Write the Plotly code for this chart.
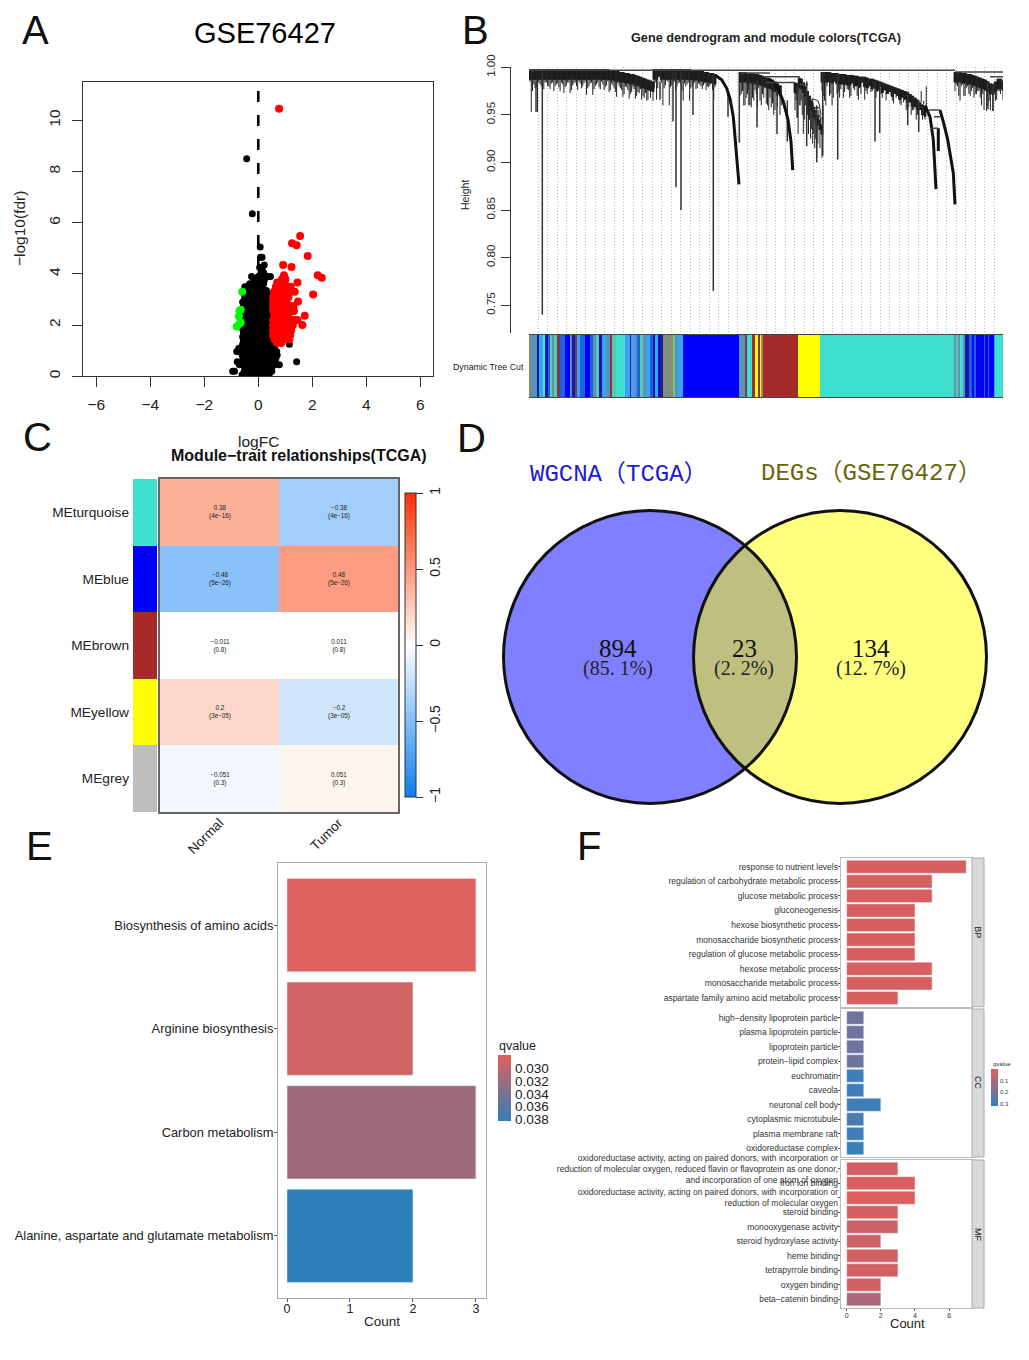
import numpy as np
import plotly.graph_objects as go

W, H = 1029, 1360
FONT = "Liberation Sans"

# ---------- Panel A values
black_rows = [
    (0.06, [-0.6, -0.48, -0.35, -0.25, -0.15, -0.05, 0.05, 0.15, 0.25, 0.33, 0.4]),
    (0.2, [-0.95, -0.88, -0.52, -0.45, -0.33, -0.2, -0.08, 0.08, 0.2, 0.3, 0.42, 0.5]),
    (0.33, [-0.5, -0.4, -0.25, -0.12, 0.02, 0.14, 0.28, 0.38, 0.5]),
    (0.45, [-0.7, -0.55, -0.42, -0.3, -0.18, -0.05, 0.1, 0.2, 0.32, 0.42, 0.55, 0.6, 0.78]),
    (0.57, [-0.78, -0.65, -0.5, -0.38, -0.25, -0.12, 0.02, 0.12, 0.25, 0.35, 0.48, 0.6, 1.42]),
    (0.7, [-0.55, -0.42, -0.28, -0.15, 0.0, 0.15, 0.28, 0.4, 0.52, 0.65]),
    (0.83, [-0.6, -0.48, -0.35, -0.2, -0.08, 0.08, 0.22, 0.35, 0.48, 0.62, 0.7]),
    (0.97, [-0.8, -0.75, -0.6, -0.45, -0.3, -0.15, 0.0, 0.15, 0.3, 0.42, 0.55, 0.68]),
    (1.1, [-0.72, -0.55, -0.42, -0.25, -0.1, 0.05, 0.2, 0.35, 0.48, 0.6]),
    (1.25, [-0.58, -0.45, -0.3, -0.15, 0.0, 0.15, 0.3, 0.45, 0.62, 1.15]),
    (1.4, [-0.55, -0.4, -0.25, -0.1, 0.05, 0.2, 0.35, 0.48]),
    (1.55, [-0.58, -0.45, -0.3, -0.15, 0.0, 0.15, 0.3, 0.45]),
    (1.7, [-0.55, -0.4, -0.25, -0.1, 0.05, 0.2, 0.35, 0.48]),
    (1.85, [-0.58, -0.45, -0.3, -0.15, 0.0, 0.15, 0.3, 0.45]),
    (2.0, [-0.55, -0.4, -0.25, -0.1, 0.05, 0.2, 0.35, 0.48]),
    (2.15, [-0.58, -0.45, -0.3, -0.15, 0.0, 0.15, 0.3, 0.45]),
    (2.3, [-0.55, -0.4, -0.25, -0.1, 0.05, 0.2, 0.35, 0.48]),
    (2.45, [-0.52, -0.42, -0.3, -0.15, 0.0, 0.15, 0.3, 0.45]),
    (2.6, [-0.52, -0.4, -0.25, -0.1, 0.05, 0.2, 0.35, 0.48]),
    (2.75, [-0.55, -0.42, -0.3, -0.15, 0.0, 0.15, 0.3, 0.45]),
    (2.9, [-0.58, -0.4, -0.25, -0.1, 0.05, 0.2, 0.35, 0.48]),
    (3.05, [-0.5, -0.42, -0.28, -0.12, 0.02, 0.18, 0.32, 0.42]),
    (3.2, [-0.52, -0.38, -0.25, -0.08, 0.08, 0.2, 0.38, 0.45]),
    (3.35, [-0.48, -0.35, -0.2, -0.05, 0.1, 0.25, 0.3]),
    (3.5, [-0.5, -0.42, -0.25, -0.1, 0.0, 0.12]),
    (3.62, [-0.32, -0.18, -0.05, 0.1, 0.2]),
    (3.75, [-0.15, -0.05, 0.1, 0.22]),
    (3.9, [-0.25, 0.0, 0.12, 0.25, 0.35, 0.45]),
    (4.05, [0.1, 0.2]),
    (4.25, [0.05, 0.15]),
    (4.35, [0.22]),
    (4.65, [0.08, 0.14]),
    (5.05, [0.07]),
    (6.35, [-0.22]),
    (8.5, [-0.43]),
]
red_rows = [
    (1.3, [0.7, 0.85]),
    (1.45, [0.6, 0.72, 0.88, 1.0, 1.15]),
    (1.6, [0.55, 0.7, 0.85, 1.0, 1.12, 1.18]),
    (1.8, [0.55, 0.7, 0.85, 1.0, 1.15, 1.22]),
    (2.0, [0.55, 0.7, 0.85, 1.0, 1.15, 1.28, 1.63]),
    (2.2, [0.55, 0.7, 0.85, 1.0, 1.15, 1.32, 1.45]),
    (2.37, [1.72, 0.6, 0.78, 0.95, 1.12]),
    (2.55, [0.55, 0.7, 0.85, 1.0, 1.15, 1.32]),
    (2.75, [0.55, 0.7, 0.85, 1.0, 1.15, 1.3]),
    (2.92, [0.55, 0.7, 0.85, 1.05, 1.47]),
    (3.1, [0.55, 0.7, 0.85, 1.0, 1.12]),
    (3.2, [2.03]),
    (3.3, [0.58, 0.75, 0.9, 1.05, 1.2, 1.35]),
    (3.5, [0.65, 0.8, 0.95, 1.05, 1.2]),
    (3.67, [0.7, 0.85, 0.98, 1.45]),
    (3.8, [0.88, 1.0]),
    (3.85, [2.35]),
    (3.95, [0.95, 2.2]),
    (4.27, [1.23]),
    (4.35, [0.92]),
    (4.7, [1.83]),
    (5.12, [1.42]),
    (5.2, [1.25]),
    (5.48, [1.55]),
    (10.45, [0.77]),
]
green_x = [-0.6, -0.65, -0.7, -0.72, -0.65, -0.7, -0.8]
green_y = [3.3, 2.6, 2.55, 2.35, 2.1, 2.05, 1.95]

# ---------- Panel B values (leaf position, branch top, branch bottom)
den_a_top = [.998]*32 + [.997, .997, .996, .996, .995, .995, .994, .994, .993, .993, .992, .991, .990, .989, .988, .987, .986, .985]
den_a_low = [.985, .975, .978, .953, .982, .979, .984, .980, .977, .984, .980, .983, .975, .982, .979, .984, .973, .981, .984, .976,
             .983, .980, .985, .978, .983, .971, .980, .984, .977, .982, .979, .985, .976, .981, .974, .983, .978, .969, .980, .976,
             .972, .979, .967, .974, .977, .970, .973, .966, .968, .965]
den_b_top = [.998]*15 + [.997, .997, .997, .996, .996, .995, .995, .994, .994, .993]
den_b_low = [.985, .966, .990, .984, .978, .986, .960, .981, .985, .979, .984, .975, .983, .982, .965, .980, .984, .978, .982, .977,
             .983, .980, .981, .976, .979]
den_c_top = [.995, .995, .995, .994, .994, .994, .993, .993, .992, .991, .990, .989, .988, .987, .985, .983, .981]
den_c_low = [.970, .975, .960, .972, .960, .968, .976, .958, .965, .972, .978, .960, .968, .962, .955, .958, .950]
den_d_top = [.984, .983, .989, .988, .984, .980, .975, .970, .965, .958, .955, .950, .945, .940]
den_d_low = [.955, .947, .960, .965, .930, .960, .950, .945, .935, .930, .925, .920, .915, .905]
den_e_top = [.995, .995, .995, .995, .994, .994, .994, .993, .993, .993, .992, .992, .992, .991, .991, .990, .990, .990, .989, .988, .988,
             .987, .986, .985, .984, .983, .982, .981, .980, .979, .978, .977, .976, .975, .974, .972, .970, .968, .966, .963, .961, .959]
den_e_low = [.975, .965, .980, .970, .960, .985, .972, .968, .982, .974, .977, .968, .983, .976, .970, .978, .984, .966, .972, .980, .975,
             .978, .974, .980, .968, .976, .972, .974, .965, .972, .970, .962, .968, .966, .960, .963, .955, .958, .950, .955, .945, .945]
den_f_top = [.995, .995, .995, .994, .994, .993, .993, .992, .991, .990, .989, .988, .987, .985, .983, .982, .985, .988, .988, .986]
den_f_low = [.975, .980, .965, .982, .970, .980, .970, .978, .972, .975, .968, .972, .975, .960, .955, .954, .965, .975, .972, .966]
den_groups = [(530, 653, den_a_top, den_a_low), (654, 715, den_b_top, den_b_low), (740, 780, den_c_top, den_c_low),
              (795, 822, den_d_top, den_d_low), (822, 925, den_e_top, den_e_low), (955, 1003, den_f_top, den_f_low)]
spike_x = [536, 542.3, 660, 673, 676, 681, 693, 713.3, 728, 739.3, 749, 757, 777, 787.3, 797.3, 806.7, 816.7, 822.7, 837.7, 875, 879.7, 907.7, 918.7, 993, 988]
spike_top = [.985, .998, .985, .995, .995, .995, .985, .992, .975, .985, .985, .985, .975, .965, .980, .985, .960, .995, .993, .985, .983, .972, .965, .983, .985]
spike_low = [.953, .74, .966, .943, .874, .85, .95, .765, .948, .921, .96, .937, .93, .922, .947, .917, .90, .907, .903, .922, .931, .939, .932, .954, .956]
curve_b = ([715, 721.7, 726.7, 730, 733.3, 735.7, 739], [.992, .987, .978, .967, .948, .917, .877])
curve_c = ([768, 776, 783, 788, 791, 792.7], [.988, .982, .965, .945, .922, .892])
curve_e1 = ([925, 930, 933.3, 935, 936], [.960, .948, .924, .896, .872])
curve_e2 = ([940, 943.3, 947.7, 951, 953.3, 955], [.955, .943, .924, .903, .889, .856])
curve_e3 = ([938.3, 938.3], [.936, .912])
joint_x0 = [529, 765, 765, 800, 928, 931, 955, 990, 740, 934]
joint_x1 = [955, 800, 795, 808, 940, 938.3, 1003, 1003, 770, 940]
joint_h = [.997, .990, .984, .982, .955, .936, .995, .990, .994, .948]
loop_x = [[812, 818, 820, 814, 812], [814, 820, 821, 816, 814], [816, 821, 820, 816, 816]]
loop_h = [[.967, .965, .958, .957, .967], [.958, .957, .950, .948, .958], [.948, .948, .940, .938, .948]]
guide_start, guide_step = 538.0, 9.5

strip_colors = {"O": "#a08a50", "G": "#5a94b0", "D": "#1418b0", "S": "#3aa4f0", "T": "#40e0d0", "R": "#1f62e0",
                "A": "#5cc8ac", "P": "#803858", "B": "#0000ff", "N": "#a52a2a", "Y": "#ffff00"}
strip_code = list("OGDSTDRAGAPRBGDPSRBRGADSGPATSDSGRAGSRDSDOGOAGSBGPTNYPYONYTGAGTGDRBRBDBRBRBST")
strip_width = [1, 6.7, 2.3, 4.3, 1.7, 3.3, 1.7, 2.3, 2, 2.3, 3.3, 5, 5, 2.3, 2.7, 1.7, 3.3, 5, 5, 3.3, 2.3, 3.3, 3.3, 4.3, 3.3, 2.3,
               4.3, 8.3, 5, 1.7, 3.3, 2.3, 2.7, 3.3, 3.3, 3.3, 3.3, 2.3, 3.3, 4.3, 3.3, 3.3, 3.3, 2.3, 2.7, 5,
               56, 6.3, 1.8, 4.8, 3.7, 2.6, 1.8, 1.8, 1.8, 35, 21.3, 134, 2.6, 2, 2, 2.6, 2, 4.3,
               3, 2, 1.5, 4, 1, 3, 1, 3, 1, 5, 1, 10]

# ---------- Panel C values
modules = ["MEturquoise", "MEblue", "MEbrown", "MEyellow", "MEgrey"]
module_colors = ["#40e0d0", "#0000ff", "#a52a2a", "#ffff00", "#bebebe"]
traits = ["Normal", "Tumor"]
corr = [[0.38, -0.38], [-0.48, 0.48], [-0.011, 0.011], [0.2, -0.2], [-0.051, 0.051]]
pval = [["4e−16", "4e−16"], ["5e−26", "5e−26"], ["0.8", "0.8"], ["3e−05", "3e−05"], ["0.3", "0.3"]]
corr_label = [["0.38", "−0.38"], ["−0.48", "0.48"], ["−0.011", "0.011"], ["0.2", "−0.2"], ["−0.051", "0.051"]]

# ---------- Panel D values
venn_cx = [650, 840]
venn_cy = 657
venn_r = 146.5

# ---------- Panel E values
kegg_terms = ["Biosynthesis of amino acids", "Arginine biosynthesis", "Carbon metabolism",
              "Alanine, aspartate and glutamate metabolism"]
kegg_count = [3, 2, 3, 2]
kegg_q = [0.0282, 0.0289, 0.0318, 0.0384]
kegg_q_ticks = [0.030, 0.032, 0.034, 0.036, 0.038]

# ---------- Panel F values
bp_terms = ["response to nutrient levels", "regulation of carbohydrate metabolic process", "glucose metabolic process",
            "gluconeogenesis", "hexose biosynthetic process", "monosaccharide biosynthetic process",
            "regulation of glucose metabolic process", "hexose metabolic process", "monosaccharide metabolic process",
            "aspartate family amino acid metabolic process"]
bp_count = [7, 5, 5, 4, 4, 4, 4, 5, 5, 3]
bp_q = [0.02, 0.02, 0.02, 0.02, 0.02, 0.02, 0.02, 0.02, 0.02, 0.02]
cc_terms = ["high−density lipoprotein particle", "plasma lipoprotein particle", "lipoprotein particle", "protein−lipid complex",
            "euchromatin", "caveola", "neuronal cell body", "cytoplasmic microtubule", "plasma membrane raft", "oxidoreductase complex"]
cc_count = [1, 1, 1, 1, 1, 1, 2, 1, 1, 1]
cc_q = [0.21, 0.21, 0.21, 0.21, 0.30, 0.30, 0.30, 0.28, 0.30, 0.31]
mf_terms = ["oxidoreductase activity, acting on paired donors, with incorporation or<br>reduction of molecular oxygen, reduced flavin or flavoprotein as one donor,<br>and incorporation of one atom of oxygen",
            "iron ion binding",
            "oxidoreductase activity, acting on paired donors, with incorporation or<br>reduction of molecular oxygen",
            "steroid binding", "monooxygenase activity", "steroid hydroxylase activity", "heme binding",
            "tetrapyrrole binding", "oxygen binding", "beta−catenin binding"]
mf_count = [3, 4, 4, 3, 3, 2, 3, 3, 2, 2]
mf_q = [0.03, 0.02, 0.01, 0.03, 0.04, 0.04, 0.03, 0.03, 0.03, 0.10]
go_q_ticks = [0.1, 0.2, 0.3]

# ---------- helpers
def dx(l, r):
    return [l / W, r / W]

def dy(t, b):
    return [1 - b / H, 1 - t / H]

def rows_to_xy(rows):
    xs, ys = [], []
    for y, vals in rows:
        xs += vals
        ys += [y] * len(vals)
    return xs, ys

annotations = []
def note(text, x, y, size, color="black", angle=0, anchor="center", bold=False, family=FONT):
    annotations.append(dict(text=f"<b>{text}</b>" if bold else text, x=x / W, y=1 - y / H, xref="paper", yref="paper",
                            showarrow=False, font=dict(size=size, color=color, family=family), textangle=angle,
                            xanchor=anchor, yanchor="middle"))

fig = go.Figure()
layout = {}

# ---------- A: volcano
bx, by = rows_to_xy(black_rows)
rx, ry = rows_to_xy(red_rows)
fig.add_trace(go.Scatter(x=bx, y=by, mode="markers", marker=dict(color="black", size=7), xaxis="x", yaxis="y"))
fig.add_trace(go.Scatter(x=rx, y=ry, mode="markers", marker=dict(color="#ff0000", size=8), xaxis="x", yaxis="y"))
fig.add_trace(go.Scatter(x=green_x, y=green_y, mode="markers", marker=dict(color="#00ff00", size=8), xaxis="x", yaxis="y"))
fig.add_trace(go.Scatter(x=[0, 0], y=[11.15, 0], mode="lines", line=dict(color="black", width=2.6, dash="11px,13px"), xaxis="x", yaxis="y"))
layout["xaxis"] = dict(domain=dx(83.3, 433.3), range=[-6.48, 6.48], tickvals=[-6, -4, -2, 0, 2, 4, 6],
                       ticktext=["−6", "−4", "−2", "0", "2", "4", "6"], ticks="outside", ticklen=10, tickcolor="#333",
                       showline=True, mirror=True, linecolor="#333", linewidth=1, showgrid=False, zeroline=False,
                       tickfont=dict(size=15.5, color="#222"), anchor="y", ticklabelstandoff=4)
layout["yaxis"] = dict(domain=dy(82, 376.3), range=[0, 11.5], tickvals=[0, 2, 4, 6, 8, 10], ticks="outside", ticklen=10,
                       tickcolor="#333", showline=True, mirror=True, linecolor="#333", linewidth=1, showgrid=False,
                       zeroline=False, tickangle=-90, tickfont=dict(size=15.5, color="#222"), anchor="x", ticklabelstandoff=6)
note("GSE76427", 265, 33, 29)
note("logFC", 258, 442, 15.5, color="#222")
note("−log10(fdr)", 19, 229, 15.5, color="#222", angle=-90)

# ---------- B: dendrogram
band_x, band_y, fringe_x, fringe_y = [], [], [], []
for x0, x1, tops, lows in den_groups:
    xs = np.linspace(x0, x1, len(tops))
    step = xs[1] - xs[0]
    shifted = lows[3:] + lows[:3]
    for xv, t, l, l2 in zip(xs, tops, lows, shifted):
        band_x += [xv, xv, None]
        band_y += [t, max(l, t - 0.011), None]
        fringe_x += [xv, xv, None, xv + step / 2, xv + step / 2, None]
        fringe_y += [t, l, None, t, l2, None]
fig.add_trace(go.Scatter(x=band_x, y=band_y, mode="lines", line=dict(color="#151515", width=2.8), xaxis="x2", yaxis="y2"))
fig.add_trace(go.Scatter(x=fringe_x, y=fringe_y, mode="lines", line=dict(color="#222", width=1), xaxis="x2", yaxis="y2"))
sx, sy = [], []
for xv, t, l in zip(spike_x, spike_top, spike_low):
    sx += [xv, xv, None]
    sy += [t, l, None]
fig.add_trace(go.Scatter(x=sx, y=sy, mode="lines", line=dict(color="#333", width=1.5), xaxis="x2", yaxis="y2"))
for cx, cy, wd in [(*curve_b, 3), (*curve_c, 3), (*curve_e1, 3), (*curve_e2, 3), (*curve_e3, 3)]:
    fig.add_trace(go.Scatter(x=cx, y=cy, mode="lines", line=dict(color="#111", width=wd), xaxis="x2", yaxis="y2"))
jx, jy = [], []
for a, b, h in zip(joint_x0, joint_x1, joint_h):
    jx += [a, b, None]
    jy += [h, h, None]
fig.add_trace(go.Scatter(x=jx, y=jy, mode="lines", line=dict(color="#444", width=1.5), xaxis="x2", yaxis="y2"))
for lx, ly in zip(loop_x, loop_h):
    fig.add_trace(go.Scatter(x=lx, y=ly, mode="lines", line=dict(color="#333", width=1), xaxis="x2", yaxis="y2"))
layout["xaxis2"] = dict(domain=dx(529, 1003), range=[529, 1003], showticklabels=False, ticks="", showline=False, zeroline=False,
                        showgrid=True, tick0=guide_start, dtick=guide_step, gridcolor="#bbbbbb", griddash="1px,2px", gridwidth=1, anchor="y2")
layout["yaxis2"] = dict(domain=dy(67.3, 333), range=[0.7208, 1.0], tickvals=[0.75, 0.8, 0.85, 0.9, 0.95, 1.0],
                        ticktext=["0.75", "0.80", "0.85", "0.90", "0.95", "1.00"], ticks="outside", ticklen=9, tickcolor="#333",
                        showline=True, linecolor="#333", linewidth=1, showgrid=False, zeroline=False, tickangle=-90,
                        tickfont=dict(size=11.5, color="#222"), anchor="free", position=510 / W, side="left", ticklabelstandoff=1)
note("Gene dendrogram and module colors(TCGA)", 766, 38, 12.7, bold=True, color="#222")
note("Height", 465, 195, 10.5, angle=-90, color="#222")
note("Dynamic Tree Cut", 488, 367, 8.8, color="#222")
keys = list(strip_colors)
strip_edges = [529 + v for v in np.cumsum([0] + strip_width)]
scale = []
for i, k in enumerate(keys):
    scale += [[i / len(keys), strip_colors[k]], [(i + 1) / len(keys), strip_colors[k]]]
fig.add_trace(go.Heatmap(z=[[keys.index(c) for c in strip_code]], x=strip_edges, y=[0], colorscale=scale, zmin=0, zmax=len(keys),
                         showscale=False, xaxis="x3", yaxis="y3", hoverinfo="skip"))
layout["xaxis3"] = dict(domain=dx(529, 1003), range=[529, 1003], showticklabels=False, ticks="", showline=True, mirror=True,
                        linecolor="#444", linewidth=1, showgrid=False, zeroline=False, anchor="y3")
layout["yaxis3"] = dict(domain=dy(335, 397), range=[-0.5, 0.5], showticklabels=False, ticks="", showline=False, showgrid=False,
                        zeroline=False, anchor="x3")

# ---------- C: module-trait heatmap
rev_mod = modules[::-1]
mscale = []
for i, c in enumerate(module_colors[::-1]):
    mscale += [[i / 5, c], [(i + 1) / 5, c]]
fig.add_trace(go.Heatmap(z=[[i] for i in range(5)], x=["m"], y=rev_mod, colorscale=mscale, zmin=-0.5, zmax=4.5, showscale=False,
                         xaxis="x4", yaxis="y4", hoverinfo="skip"))
layout["xaxis4"] = dict(domain=dx(133, 157), showticklabels=False, ticks="", showline=False, showgrid=False, zeroline=False, anchor="y4")
layout["yaxis4"] = dict(domain=dy(479, 812), showline=False, showgrid=False, zeroline=False, ticks="", anchor="x4",
                        tickfont=dict(size=13.7, color="#222"), ticklabelstandoff=3, categoryorder="array", categoryarray=rev_mod)
cell_text = [[f"{corr_label[i][j]}<br>({pval[i][j]})" for j in range(2)] for i in range(5)]
fig.add_trace(go.Heatmap(z=corr[::-1], x=traits, y=rev_mod, text=cell_text[::-1], texttemplate="%{text}",
                         textfont=dict(size=6.3, color="#222", family=FONT), zmin=-1, zmax=1,
                         colorscale=[[0, "#0a7ff0"], [0.5, "#ffffff"], [0.525, "#fcf5ee"], [1, "#ff3000"]], xaxis="x5", yaxis="y5", hoverinfo="skip",
                         colorbar=dict(x=405 / W, xanchor="left", y=1 - 645 / H, yanchor="middle", len=304 / H, lenmode="fraction",
                                       thickness=11, thicknessmode="pixels", xpad=0, ypad=0, outlinewidth=1, outlinecolor="#333",
                                       tickvals=[-1, -0.5, 0, 0.5, 1], ticktext=["−1", "−0.5", "0", "0.5", "1"], ticks="outside",
                                       ticklen=7, tickcolor="#333", tickangle=-90, tickfont=dict(size=14, color="#222"))))
layout["xaxis5"] = dict(domain=dx(160, 398), showline=True, mirror=True, linecolor="#666", linewidth=1.5, showgrid=False, zeroline=False,
                        ticks="", tickangle=-45, tickfont=dict(size=13.5, color="#222"), anchor="y5", ticklabelstandoff=-4)
layout["yaxis5"] = dict(domain=dy(479, 812), showticklabels=False, ticks="", showline=True, mirror=True, linecolor="#666", linewidth=1.5,
                        showgrid=False, zeroline=False, anchor="x5", categoryorder="array", categoryarray=rev_mod)
note("Module−trait relationships(TCGA)", 299, 456, 16, bold=True, color="#111")

# ---------- D: Venn
shapes = []
fig.add_trace(go.Scatter(x=venn_cx, y=[venn_cy, venn_cy], mode="markers", marker=dict(size=1, opacity=0), xaxis="x6", yaxis="y6", hoverinfo="skip"))
for c, col in zip(venn_cx, ["rgba(0,0,255,0.5)", "rgba(255,255,0,0.5)"]):
    shapes.append(dict(type="circle", xref="x6", yref="y6", x0=c - venn_r, x1=c + venn_r, y0=venn_cy - venn_r, y1=venn_cy + venn_r,
                       fillcolor=col, line=dict(width=0)))
for c in venn_cx:
    shapes.append(dict(type="circle", xref="x6", yref="y6", x0=c - venn_r, x1=c + venn_r, y0=venn_cy - venn_r, y1=venn_cy + venn_r,
                       line=dict(color="#111", width=3)))
layout["xaxis6"] = dict(domain=dx(495, 995), range=[495, 995], visible=False, anchor="y6")
layout["yaxis6"] = dict(domain=dy(500, 815), range=[815, 500], visible=False, anchor="x6")
SERIF = "Liberation Serif"
MONO = "Liberation Mono, Noto Sans CJK SC"
note("WGCNA（TCGA）", 618.5, 474, 24, color="#1a1ad8", family=MONO)
note("DEGs（GSE76427）", 871.5, 473, 24, color="#66660a", family=MONO)
for cx, big, small in [(618, "894", "(85. 1%)"), (744, "23", "(2. 2%)"), (871, "134", "(12. 7%)")]:
    note(big, cx, 648, 25, color="#111", family=SERIF)
    note(small, cx, 668, 20, color="#222", family=SERIF)

# ---------- E: KEGG bars
QE = [[0, "#e0605c"], [1, "#2b7fba"]]
fig.add_trace(go.Bar(x=kegg_count, y=kegg_terms, orientation="h", width=0.9,
                     marker=dict(color=kegg_q, cmin=0.028, cmax=0.0385, colorscale=QE, showscale=False), xaxis="x7", yaxis="y7"))
layout["xaxis7"] = dict(domain=dx(278, 486), range=[-0.143, 3.16], tickvals=[0, 1, 2, 3], ticks="outside", ticklen=3, tickcolor="#555",
                        showline=True, mirror=True, linecolor="#aaa", linewidth=1, showgrid=False, zeroline=False,
                        tickfont=dict(size=12.5, color="#222"), anchor="y7", ticklabelstandoff=-4)
layout["yaxis7"] = dict(domain=dy(863, 1298), range=[3.6, -0.6], type="category", categoryorder="array", categoryarray=kegg_terms,
                        ticks="outside", ticklen=3, tickcolor="#555", showline=True, mirror=True, linecolor="#aaa", linewidth=1,
                        showgrid=False, zeroline=False, tickfont=dict(size=12.9, color="#222"), anchor="x7", ticklabelstandoff=-2)
note("Count", 382, 1321, 13.5, color="#222")
ramp_e = np.linspace(0.028, 0.0385, 40)
fig.add_trace(go.Heatmap(z=[[v] for v in ramp_e], y=ramp_e, x=[0], colorscale=QE, zmin=0.028, zmax=0.0385, showscale=False,
                         xaxis="x8", yaxis="y8", hoverinfo="skip"))
layout["xaxis8"] = dict(domain=dx(498, 511), visible=False, anchor="y8")
layout["yaxis8"] = dict(domain=dy(1055, 1121), range=[0.0382, 0.028], tickvals=kegg_q_ticks, ticktext=[f"{v:.3f}" for v in kegg_q_ticks],
                        side="right", ticks="", showline=False, showgrid=False, zeroline=False, tickfont=dict(size=13.5, color="#222"),
                        anchor="x8", ticklabelstandoff=3)
note("qvalue", 517, 1046, 12.5, color="#222")

# ---------- F: GO facets
QF = [[0, "#e25d5a"], [1, "#3380bf"]]
facets = [("9", bp_terms, bp_count, bp_q, 858, 1006.7, "BP"), ("10", cc_terms, cc_count, cc_q, 1009, 1157, "CC"),
          ("11", mf_terms, mf_count, mf_q, 1160, 1308, "MF")]
for sid, terms, counts, q, top, bot, lab in facets:
    fig.add_trace(go.Bar(x=counts, y=terms, orientation="h", width=0.9,
                         marker=dict(color=q, cmin=0, cmax=0.32, colorscale=QF, showscale=False), xaxis="x" + sid, yaxis="y" + sid))
    show_x = sid == "11"
    layout["xaxis" + sid] = dict(domain=dx(840.7, 972), range=[-0.35, 7.34], tickvals=[0, 2, 4, 6], showticklabels=show_x,
                                 ticks="outside" if show_x else "", ticklen=2, tickcolor="#555", showline=True, mirror=True,
                                 linecolor="#bbb", linewidth=1, showgrid=False, zeroline=False, tickfont=dict(size=7, color="#333"),
                                 anchor="y" + sid, ticklabelstandoff=-1 if show_x else 0)
    layout["yaxis" + sid] = dict(domain=dy(top, bot), range=[9.6, -0.6], type="category", categoryorder="array", categoryarray=terms,
                                 ticks="outside", ticklen=2, tickcolor="#555", showline=True, mirror=True, linecolor="#bbb",
                                 linewidth=1, showgrid=False, zeroline=False, tickfont=dict(size=8.5, color="#333"), anchor="x" + sid,
                                 ticklabelstandoff=-2)
    shapes.append(dict(type="rect", xref="paper", yref="paper", x0=972 / W, x1=984 / W, y0=1 - bot / H, y1=1 - top / H,
                       fillcolor="#d9d9d9", line=dict(color="#aaa", width=1)))
    note(lab, 978, (top + bot) / 2, 9, color="#222", angle=90)
note("Count", 907, 1323, 13, color="#222")
ramp_f = np.linspace(0.0, 0.32, 30)
fig.add_trace(go.Heatmap(z=[[v] for v in ramp_f], y=ramp_f, x=[0], colorscale=QF, zmin=0, zmax=0.32, showscale=False,
                         xaxis="x12", yaxis="y12", hoverinfo="skip"))
layout["xaxis12"] = dict(domain=dx(991, 998), visible=False, anchor="y12")
layout["yaxis12"] = dict(domain=dy(1069, 1106), range=[0.32, 0], tickvals=go_q_ticks, side="right", ticks="", showline=False,
                         showgrid=False, zeroline=False, tickfont=dict(size=6, color="#333"), anchor="x12", ticklabelstandoff=1)
note("qvalue", 1002, 1064, 6, color="#333")

# ---------- panel letters
for letter, x, y in [("A", 35, 30), ("B", 475, 30), ("C", 37, 437), ("D", 471, 438), ("E", 39, 846), ("F", 589, 846)]:
    note(letter, x, y, 40, color="#111")

fig.update_layout(width=W, height=H, margin=dict(l=0, r=0, t=0, b=0, autoexpand=False), showlegend=False, plot_bgcolor="white", paper_bgcolor="white",
                  font=dict(family=FONT), annotations=annotations, shapes=shapes, bargap=0.1, **layout)
fig.write_html("out.html", config=dict(displayModeBar=False), post_script="document.body.style.margin='0';")
